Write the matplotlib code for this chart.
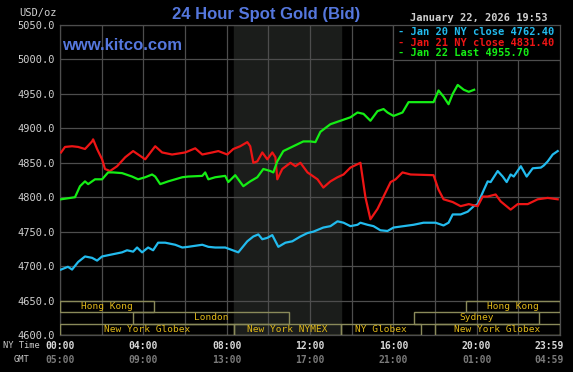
import matplotlib
matplotlib.use("Agg")
import matplotlib.pyplot as plt
from matplotlib.patches import Rectangle
import matplotlib.transforms as mtransforms

# hours since 00:00 NY time, price in USD/oz
jan20_hours = [0.05, 0.38, 0.58, 0.87, 1.20, 1.54, 1.78, 2.02, 2.50, 2.98, 3.22, 3.51, 3.70, 3.94, 4.23,
               4.47, 4.71, 5.05, 5.53, 5.87, 6.15, 6.83, 7.12, 7.45, 7.93, 8.56, 8.99, 9.28, 9.52, 9.71,
               9.95, 10.19, 10.48, 10.82, 11.15, 11.54, 11.88, 12.16, 12.64, 12.98, 13.32, 13.61, 13.94,
               14.28, 14.42, 14.76, 15.05, 15.38, 15.72, 16.01, 16.49, 16.97, 17.45, 18.03, 18.41, 18.65,
               18.85, 19.23, 19.57, 19.86, 20.05, 20.29, 20.53, 20.67, 21.01, 21.25, 21.44, 21.63, 21.78,
               22.12, 22.40, 22.69, 23.08, 23.22, 23.41, 23.65, 23.89]
jan20_price = [4695, 4699, 4695, 4706, 4714, 4712, 4708, 4714, 4717, 4720, 4723, 4721, 4727, 4720, 4727,
               4723, 4734, 4734, 4731, 4727, 4728, 4731, 4728, 4727, 4727, 4720, 4736, 4743, 4746, 4739,
               4741, 4745, 4728, 4734, 4736, 4743, 4748, 4750, 4756, 4758, 4765, 4763, 4758,
               4760, 4763, 4760, 4758, 4752, 4751, 4756, 4758, 4760, 4763, 4763, 4759, 4763,
               4775, 4775, 4779, 4787, 4790, 4807, 4823, 4822, 4838, 4830, 4822, 4833, 4830,
               4845, 4830, 4842, 4843, 4846, 4852, 4862, 4867]

jan21_hours = [0.05, 0.24, 0.58, 0.87, 1.20, 1.54, 1.59, 1.78, 2.02, 2.16, 2.40, 2.74, 3.13, 3.51, 4.09,
               4.57, 4.90, 5.38, 6.01, 6.49, 6.83, 7.31, 7.60, 8.03, 8.32, 8.65, 8.99, 9.13, 9.28, 9.47,
               9.71, 9.95, 10.19, 10.34, 10.43, 10.67, 11.06, 11.30, 11.54, 11.88, 12.36, 12.64, 12.98,
               13.32, 13.61, 13.94, 14.42, 14.66, 14.90, 15.24, 15.53, 15.87, 16.11, 16.44, 16.83, 17.93,
               18.17, 18.41, 18.85, 19.23, 19.62, 20.05, 20.29, 20.53, 20.91, 21.15, 21.63, 21.97, 22.45,
               22.93, 23.41, 23.89]
jan21_price = [4865, 4873, 4874, 4873, 4870, 4881, 4884, 4870, 4855, 4841, 4838, 4845, 4858, 4867, 4855,
               4874, 4865, 4862, 4865, 4871, 4862, 4865, 4867, 4862, 4870, 4874, 4880, 4874, 4850, 4852,
               4865, 4855, 4865, 4858, 4826, 4841, 4850, 4845, 4850, 4836, 4826, 4814, 4823,
               4829, 4833, 4843, 4850, 4800, 4768, 4783, 4801, 4822, 4826, 4836, 4833, 4832,
               4811, 4797, 4793, 4787, 4790, 4787, 4801, 4801, 4804, 4794, 4782, 4790, 4790,
               4797, 4799, 4797]

jan22_hours = [0.05, 0.72, 0.96, 1.20, 1.35, 1.68, 2.02, 2.31, 2.55, 2.98, 3.46, 3.75, 4.09, 4.42, 4.57,
               4.81, 5.19, 5.87, 6.15, 6.83, 6.97, 7.12, 7.45, 7.93, 8.08, 8.41, 8.80, 9.13, 9.47, 9.76,
               10.10, 10.24, 10.43, 10.72, 11.20, 11.68, 12.02, 12.26, 12.50, 12.98, 13.46, 13.94, 14.28,
               14.57, 14.90, 15.24, 15.53, 15.72, 16.01, 16.44, 16.73, 17.93, 18.17, 18.41, 18.65, 18.85,
               19.09, 19.38, 19.62, 19.88]
jan22_price = [4797, 4800, 4816, 4823, 4819, 4826, 4826, 4836, 4836, 4835, 4830, 4826, 4829, 4833, 4830,
               4819, 4823, 4829, 4830, 4831, 4836, 4826, 4829, 4831, 4822, 4832, 4816, 4823, 4829, 4841,
               4838, 4836, 4852, 4867, 4874, 4881, 4881, 4880, 4895, 4906, 4911, 4916, 4923,
               4921, 4911, 4925, 4928, 4923, 4918, 4923, 4938, 4938, 4955, 4946, 4935, 4950,
               4963, 4956, 4953, 4956]

legend_labels = ["- Jan 20 NY close 4762.40", "- Jan 21 NY close 4831.40", "- Jan 22 Last 4955.70"]

y_ticks = [4600, 4650, 4700, 4750, 4800, 4850, 4900, 4950, 5000, 5050]
ny_ticks = [0, 4, 8, 12, 16, 20, 24]
ny_labels = ["00:00", "04:00", "08:00", "12:00", "16:00", "20:00", "23:59"]
gmt_labels = ["05:00", "09:00", "13:00", "17:00", "21:00", "01:00", "04:59"]

nymex_hours = (8.33, 13.5)

# trading sessions per row (top row first): name, start hour, end hour
sessions_row1 = [("Hong Kong", 0, 4.5), ("Hong Kong", 19.5, 24)]
sessions_row2 = [("London", 3.5, 11), ("Sydney", 17, 23)]
sessions_row3 = [("New York Globex", 0, 8.33), ("New York NYMEX", 8.33, 13.5),
                 ("NY Globex", 13.5, 17.33), ("New York Globex", 18, 24)]

W, H = 573, 372
grid_col = "#4d4d4d"
mono = "DejaVu Sans Mono"

fig = plt.figure(figsize=(W / 100, H / 100), dpi=100, facecolor="black")
ax = fig.add_axes([60 / W, 37 / H, 500 / W, 310 / H], facecolor="black")
ax.set_xlim(0, 24)
ax.set_ylim(4600, 5050)

ax.axvspan(nymex_hours[0], nymex_hours[1], color="#1b1d1b", zorder=0)

ax.set_yticks(y_ticks)
ax.set_yticklabels([f"{v:.1f}" for v in y_ticks], fontfamily=mono, fontsize=7.5, color="#d0d0d0")
ax.set_xticks(ny_ticks)
ax.set_xticks(range(2, 24, 4), minor=True)
ax.set_xticklabels([])
ax.tick_params(length=0, which="both", pad=4)
ax.grid(True, which="both", color=grid_col, lw=0.9, zorder=1)
ax.set_axisbelow(True)
for s in ax.spines.values():
    s.set_color(grid_col)
    s.set_linewidth(0.9)

# NY time and GMT rows under the axis
trans = mtransforms.blended_transform_factory(ax.transData, fig.transFigure)
for i, (h, ny, gmt) in enumerate(zip(ny_ticks, ny_labels, gmt_labels)):
    tr = trans
    ha = "center"
    if i == len(ny_ticks) - 1:
        ha = "right"
        tr = trans + mtransforms.ScaledTranslation(4 / 100, 0, fig.dpi_scale_trans)
    ax.text(h, 1 - 346 / H, ny, transform=tr, ha=ha, va="center",
            fontfamily=mono, fontsize=7, color="#d8d8d8", fontweight="bold")
    ax.text(h, 1 - 360 / H, gmt, transform=tr, ha=ha, va="center",
            fontfamily=mono, fontsize=7, color="#7a7a7a", fontweight="bold")
fig.text(3 / W, 1 - 346 / H, "NY Time", ha="left", va="center", fontfamily=mono, fontsize=6.3, color="#c8c8c8")
fig.text(14 / W, 1 - 360 / H, "GMT", ha="left", va="center", fontfamily=mono, fontsize=6.3, color="#c8c8c8")

ax.plot(jan20_hours, jan20_price, color="#22bbee", lw=1.6, zorder=3)
ax.plot(jan21_hours, jan21_price, color="#ee1515", lw=1.6, zorder=3)
ax.plot(jan22_hours, jan22_price, color="#15ee15", lw=1.6, zorder=4)

# session bars at the bottom
row_h = (4650 - 4600) / 3
sess_col = "#8a8a5a"
for i, row in enumerate([sessions_row1, sessions_row2, sessions_row3]):
    top = 4650 - i * row_h
    for name, start, end in row:
        ax.add_patch(Rectangle((start, top - row_h), end - start, row_h, fill=False,
                               edgecolor=sess_col, lw=1.0, zorder=5))
        ax.text((start + end) / 2, top - row_h / 2, name, ha="center", va="center",
                fontfamily=mono, fontsize=6.8, color="#e0b818", zorder=6)

# legend box
ax.add_patch(Rectangle((0.666, 0.887), 0.334, 0.113, transform=ax.transAxes,
                       facecolor="black", edgecolor=grid_col, lw=0.9, zorder=7))
for i, (lab, col) in enumerate(zip(legend_labels, ["#22bbee", "#ee1515", "#15ee15"])):
    fig.text(398 / W, 1 - (32 + i * 10.5) / H, lab, ha="left", va="center",
             fontfamily=mono, fontsize=7.5, color=col, fontweight="bold", zorder=8)

fig.text(266 / W, 1 - 14.5 / H, "24 Hour Spot Gold (Bid)", ha="center", va="center",
         fontfamily="Liberation Sans", fontweight="bold", fontsize=12, color="#5577dd")
fig.text(62 / W, 1 - 45 / H, "www.kitco.com", ha="left", va="center",
         fontfamily="Liberation Sans", fontweight="bold", fontsize=12, color="#5577dd", zorder=8)
fig.text(548 / W, 1 - 18 / H, "January 22, 2026 19:53", ha="right", va="center",
         fontfamily=mono, fontsize=7.5, color="#d0d0d0", fontweight="bold")
fig.text(57 / W, 1 - 13 / H, "USD/oz", ha="right", va="center",
         fontfamily=mono, fontsize=7.5, color="#d0d0d0")

fig.savefig("out.png", dpi=100, facecolor="black")
